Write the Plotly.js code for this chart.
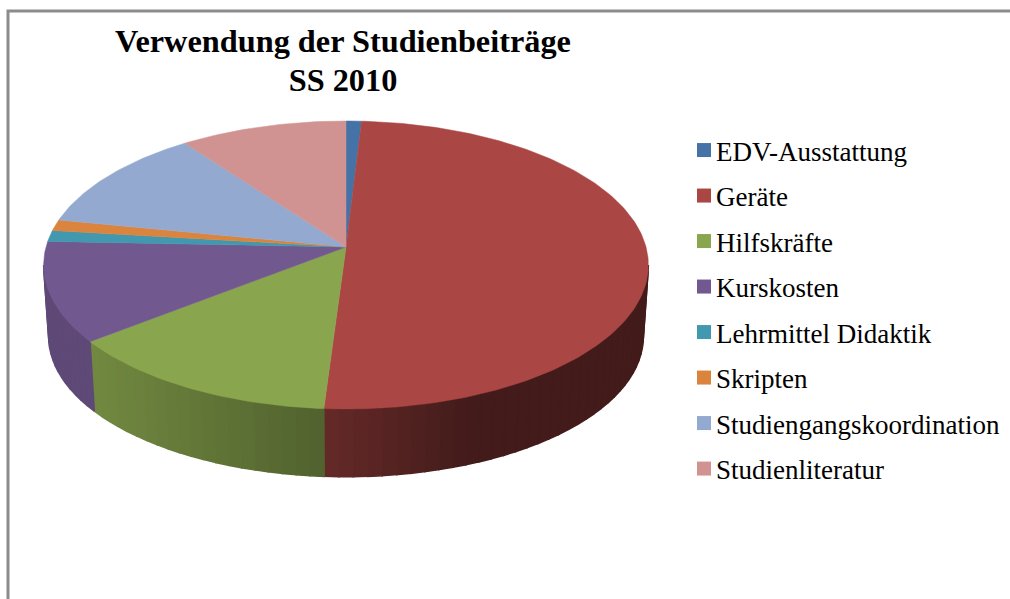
<!DOCTYPE html>
<html><head><meta charset="utf-8">
<script src="https://cdn.plot.ly/plotly-3.0.1.min.js"></script>
<style>html,body{margin:0;padding:0;background:#fff;overflow:hidden}#chart{width:1010px;height:599px}</style>
</head><body><div id="chart"></div>
<script>
const titleText = "Verwendung der Studienbeiträge<br>SS 2010";
const categories = ["EDV-Ausstattung","Geräte","Hilfskräfte","Kurskosten","Lehrmittel Didaktik","Skripten","Studiengangskoordination","Studienliteratur"];
const values = [0.93,50.1,13.4,11.2,1.25,1.25,11.8,10.07];
const colors = ["#4572a7","#aa4643","#89a54e","#71588f","#4198af","#db843d","#93a9cf","#d19392"];

// perspective projection of the pie disc onto the plot axes
const K = 0.125;
const topRim = {cx:346, cy:247, a:300, b:141.75};
const botRim = {cx:346, cy:319, a:295, b:138};
function project(rim, thetaDeg){
  const t = thetaDeg*Math.PI/180, u = Math.sin(t), v = -Math.cos(t), d = 1-K*v;
  return [rim.cx+rim.a*u/d, rim.cy+rim.b*v/d];
}
function rgb(hex,f){
  const n=parseInt(hex.slice(1),16);
  return `rgb(${Math.round((n>>16&255)*f)},${Math.round((n>>8&255)*f)},${Math.round((n&255)*f)})`;
}
function shade(x){ // side-wall lighting, left to right
  if(x<=93) return 0.83;
  if(x<=325) return 0.83-(x-93)/232*0.24;
  if(x<=470) return 0.59-(x-325)/145*0.20;
  return 0.39;
}
const total = values.reduce((a,b)=>a+b,0);
const SIDE_FROM = 97.2, SIDE_TO = 262.8;
const traces = [];
let acc = 0;
const bounds = values.map(val=>{const s=acc; acc+=val; return [s/total*360, acc/total*360];});

// side wall
bounds.forEach(([s,e],i)=>{
  const from=Math.max(s,SIDE_FROM), to=Math.min(e,SIDE_TO);
  if(to<=from) return;
  const n=Math.max(1,Math.ceil((to-from)/2.5));
  for(let j=0;j<n;j++){
    const t1=from+(to-from)*j/n, t2=from+(to-from)*(j+1)/n;
    const xs=[],ys=[];
    for(let q=0;q<=2;q++){const p=project(topRim,t1+(t2-t1)*q/2);xs.push(p[0]);ys.push(p[1]);}
    for(let q=2;q>=0;q--){const p=project(botRim,t1+(t2-t1)*q/2);xs.push(p[0]);ys.push(p[1]);}
    xs.push(xs[0]);ys.push(ys[0]);
    const c=rgb(colors[i],shade((xs[1]+xs[4])/2));
    traces.push({type:"scatter",mode:"lines",x:xs,y:ys,fill:"toself",fillcolor:c,line:{color:c,width:1.5},showlegend:false,hoverinfo:"skip"});
  }
});
// top face
bounds.forEach(([s,e],i)=>{
  const xs=[topRim.cx],ys=[topRim.cy];
  const n=Math.max(2,Math.ceil((e-s)));
  for(let j=0;j<=n;j++){const p=project(topRim,s+(e-s)*j/n);xs.push(p[0]);ys.push(p[1]);}
  xs.push(topRim.cx);ys.push(topRim.cy);
  traces.push({type:"scatter",mode:"lines",x:xs,y:ys,fill:"toself",fillcolor:colors[i],line:{color:colors[i],width:0.5},
    name:categories[i],text:categories[i]+": "+values[i]+" %",hoverinfo:"text",hoveron:"fills",showlegend:false});
});
// legend keys
categories.forEach((c,i)=>{
  traces.push({type:"scatter",mode:"markers",x:[-500],y:[-500],name:c,legendgroup:c,legendrank:i+1,
    marker:{symbol:"square",size:14,color:colors[i]},hoverinfo:"skip",cliponaxis:true});
});

const layout = {
  width:1010,height:599,paper_bgcolor:"#fff",plot_bgcolor:"#fff",
  margin:{l:0,r:0,t:0,b:0,autoexpand:false},
  xaxis:{range:[0,1010],visible:false,fixedrange:true},
  yaxis:{range:[599,0],visible:false,fixedrange:true},
  title:{text:titleText,x:343/1010,xanchor:"center",y:1-52/599,yanchor:"top",
    font:{family:"Liberation Serif",size:32.3,color:"#000",weight:700}},
  showlegend:true,
  legend:{x:684/1010,xanchor:"left",y:1-126/599,yanchor:"top",traceorder:"grouped",tracegroupgap:7.4,
    bgcolor:"rgba(0,0,0,0)",font:{family:"Liberation Serif",size:27,color:"#000"}},
  shapes:[{type:"path",xref:"x",yref:"y",path:"M 8 600 L 8 11 L 1012 11",line:{color:"#8c8c8c",width:3},layer:"above"}]
};
Plotly.newPlot("chart",traces,layout,{displayModeBar:false,responsive:false}).then(()=>{
  document.querySelectorAll(".legend text.legendtext").forEach(t=>{t.setAttribute("x",String(parseFloat(t.getAttribute("x"))-8));});
  const lines=document.querySelectorAll(".gtitle tspan.line");
  if(lines.length>1) lines[1].setAttribute("dy","39px");
});
</script></body></html>
